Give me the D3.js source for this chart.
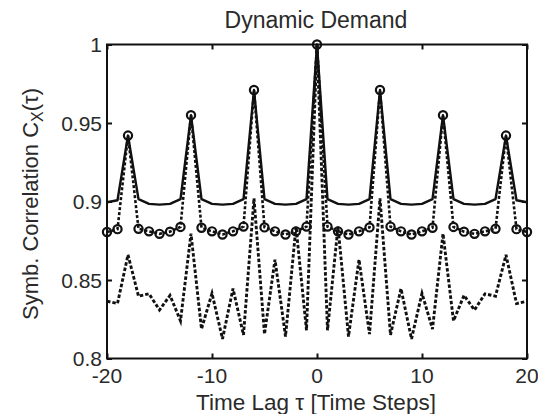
<!DOCTYPE html>
<html>
<head>
<meta charset="utf-8">
<script src="https://cdn.jsdelivr.net/npm/d3@7"></script>
<style>
  html, body { margin: 0; padding: 0; background: #fff; }
  svg { display: block; }
  text { font-family: "Liberation Sans", Arial, sans-serif; fill: #2a2a2a; }
</style>
</head>
<body>
<svg id="chart" width="538" height="414"></svg>
<script>
// ---- Data ----
const lags = d3.range(-20, 21);
const lagTicks = [-20, -10, 0, 10, 20];
const yTicks = [0.8, 0.85, 0.9, 0.95, 1];
const yTickLabels = ["0.8", "0.85", "0.9", "0.95", "1"];

// values for tau = 0..20 (series are symmetric autocorrelations)
const solidHalf = [1.0, 0.9015, 0.8985, 0.898, 0.8985, 0.9015, 0.971,
                   0.9015, 0.8985, 0.898, 0.8985, 0.9015, 0.955,
                   0.9015, 0.8985, 0.898, 0.8985, 0.9015, 0.942,
                   0.9008, 0.8995];
const circleHalf = [1.0, 0.884, 0.881, 0.879, 0.881, 0.8835, 0.971,
                    0.884, 0.881, 0.879, 0.881, 0.8833, 0.955,
                    0.8838, 0.8808, 0.8794, 0.881, 0.8826, 0.942,
                    0.8824, 0.8806];
const lowerHalf = [1.0, 0.818, 0.884, 0.814, 0.863, 0.8155, 0.902,
                   0.815, 0.8445, 0.8125, 0.8415, 0.8188, 0.8795,
                   0.824, 0.8402, 0.8309, 0.8412, 0.8397, 0.866,
                   0.835, 0.8365];

function mirror(half) {
  return lags.map(t => half[Math.abs(t)]);
}
const solidVals = mirror(solidHalf);
const circleVals = mirror(circleHalf);
const lowerVals = mirror(lowerHalf);

// ---- Layout ----
const svg = d3.select("#chart");
const L = 107, R = 527, T = 44.5, B = 358.5;
const x = d3.scaleLinear().domain([-20, 20]).range([L, R]);
const y = d3.scaleLinear().domain([0.8, 1]).range([B, T]);

const plot = svg.append("g");
const clipId = "clip";
svg.append("defs").append("clipPath").attr("id", clipId)
  .append("rect").attr("x", L - 7).attr("y", T - 7).attr("width", R - L + 14).attr("height", B - T + 14);

const line = d3.line().x((d, i) => x(lags[i])).y(d => y(d));

const series = plot.append("g").attr("clip-path", `url(#${clipId})`);

series.append("path").datum(solidVals)
  .attr("d", line).attr("fill", "none").attr("stroke", "#111")
  .attr("stroke-width", 2.4).attr("stroke-linejoin", "round");

series.append("path").datum(circleVals)
  .attr("d", line).attr("fill", "none").attr("stroke", "#111")
  .attr("stroke-width", 2.6).attr("stroke-dasharray", "3,2");

series.append("path").datum(lowerVals)
  .attr("d", line).attr("fill", "none").attr("stroke", "#111")
  .attr("stroke-width", 2.9).attr("stroke-dasharray", "3.5,2");

series.selectAll("circle.m").data(circleVals).enter().append("circle")
  .attr("class", "m")
  .attr("cx", (d, i) => x(lags[i])).attr("cy", d => y(d))
  .attr("r", 4.1).attr("fill", "none").attr("stroke", "#111").attr("stroke-width", 2.2);

// ---- Axes box ----
svg.append("rect").attr("x", L).attr("y", T).attr("width", R - L).attr("height", B - T)
  .attr("fill", "none").attr("stroke", "#111").attr("stroke-width", 2);

const tickLen = 5;
const axB = d3.axisTop(x).tickValues(lagTicks).tickSize(tickLen).tickFormat("");
const axT = d3.axisBottom(x).tickValues(lagTicks).tickSize(tickLen).tickFormat("");
const axLft = d3.axisRight(y).tickValues(yTicks).tickSize(tickLen).tickFormat("");
const axRgt = d3.axisLeft(y).tickValues(yTicks).tickSize(tickLen).tickFormat("");
function styleAxis(g) {
  g.select(".domain").remove();
  g.selectAll("line").attr("stroke", "#111").attr("stroke-width", 2);
}
svg.append("g").attr("transform", `translate(0,${B})`).call(axB).call(styleAxis);
svg.append("g").attr("transform", `translate(0,${T})`).call(axT).call(styleAxis);
svg.append("g").attr("transform", `translate(${L},0)`).call(axLft).call(styleAxis);
svg.append("g").attr("transform", `translate(${R},0)`).call(axRgt).call(styleAxis);

// tick labels
svg.append("g").selectAll("text").data(lagTicks).enter().append("text")
  .attr("x", d => x(d)).attr("y", 383)
  .attr("text-anchor", "middle").attr("font-size", 21)
  .text(d => d);

svg.append("g").selectAll("text").data(yTicks).enter().append("text")
  .attr("x", 102).attr("y", d => y(d) + 7.5)
  .attr("text-anchor", "end").attr("font-size", 21)
  .text((d, i) => yTickLabels[i]);

// titles
svg.append("text").attr("x", 316).attr("y", 28)
  .attr("text-anchor", "middle").attr("font-size", 23)
  .text("Dynamic Demand");

svg.append("text").attr("x", 316).attr("y", 410)
  .attr("text-anchor", "middle").attr("font-size", 22.5)
  .text("Time Lag τ [Time Steps]");

const yl = svg.append("text")
  .attr("transform", "translate(38,204) rotate(-90)")
  .attr("text-anchor", "middle").attr("font-size", 22);
yl.append("tspan").text("Symb. Correlation C");
yl.append("tspan").attr("font-size", 16).attr("dy", 5).text("X");
yl.append("tspan").attr("dy", -5).text("(τ)");
</script>
</body>
</html>
